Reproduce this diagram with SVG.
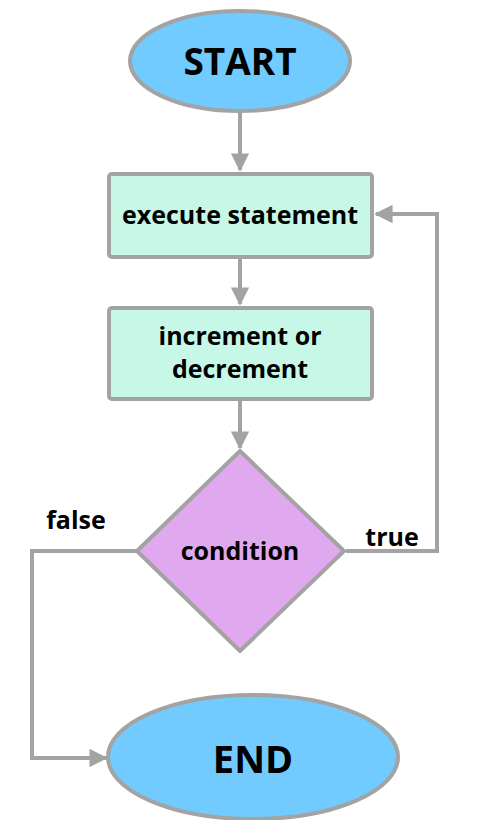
<svg xmlns="http://www.w3.org/2000/svg" width="489" height="820" viewBox="0 0 489 820">
<defs>
<style>
.node{stroke:#a3a3a3;stroke-width:4}
.term{fill:#72cbff}
.proc{fill:#c7f8e7}
.dec{fill:#e0a8ee}
.lbl{font-family:"Open Sans","Noto Sans","DejaVu Sans",sans-serif;font-weight:bold;fill:#000;text-anchor:middle}
.edge{fill:none;stroke:#a3a3a3;stroke-width:4}
</style>
<marker id="arr" viewBox="0 0 10 10" refX="9" refY="5" markerWidth="4.6" markerHeight="4.6" markerUnits="strokeWidth" orient="auto">
<path d="M0,0 L10,5 L0,10 z" fill="#a3a3a3"/>
</marker>
</defs>
<rect width="489" height="820" fill="#ffffff"/>
<g id="connectors">
<path class="edge" d="M240,112 V170" marker-end="url(#arr)"/>
<path class="edge" d="M240,259 V304" marker-end="url(#arr)"/>
<path class="edge" d="M240,401 V448" marker-end="url(#arr)"/>
<path class="edge" d="M346,551 H437 V214 H376" marker-end="url(#arr)"/>
<path class="edge" d="M136,551 H32 V758 H106" marker-end="url(#arr)"/>
<text class="lbl" x="76" y="529" font-size="25">false</text>
<text class="lbl" x="392" y="546" font-size="25">true</text>
</g>
<g id="start">
<ellipse class="node term" cx="240" cy="61" rx="110" ry="50"/>
<text class="lbl" x="240" y="75" font-size="37">START</text>
</g>
<g id="execute">
<rect class="node proc" x="109" y="174" width="263" height="83" rx="3"/>
<text class="lbl" x="240" y="224" font-size="25">execute statement</text>
</g>
<g id="increment">
<rect class="node proc" x="109" y="308" width="263" height="91" rx="3"/>
<text class="lbl" x="240" y="345" font-size="25">increment or</text>
<text class="lbl" x="240" y="378" font-size="25">decrement</text>
</g>
<g id="condition">
<path class="node dec" d="M240,451 L344,551 L240,651 L137,551 Z" stroke-linejoin="round"/>
<text class="lbl" x="240" y="560" font-size="25">condition</text>
</g>
<g id="end">
<ellipse class="node term" cx="253" cy="757" rx="145" ry="62"/>
<text class="lbl" x="253" y="773" font-size="38">END</text>
</g>
</svg>
